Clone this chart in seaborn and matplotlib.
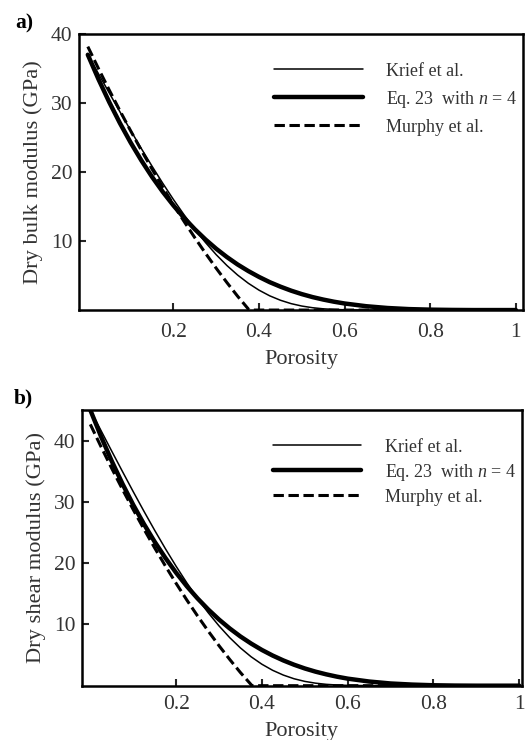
import matplotlib
matplotlib.use("Agg")
import matplotlib.pyplot as plt
import pandas as pd
import seaborn as sns

# porosity grid shared by the Krief and Eq. 23 curves
porosity = [0.0, 0.025, 0.05, 0.075, 0.1, 0.125, 0.15, 0.175, 0.2, 0.225, 0.25, 0.275,
            0.3, 0.325, 0.35, 0.375, 0.4, 0.425, 0.45, 0.475, 0.5, 0.525, 0.55, 0.575,
            0.6, 0.65, 0.7, 0.75, 0.8, 0.85, 0.9, 1.0]

# a) dry bulk modulus (GPa)
bulk_krief = [37.0, 34.23, 31.47, 28.73, 26.04, 23.41, 20.85, 18.38, 16.02, 13.79, 11.71, 9.78,
              8.02, 6.45, 5.07, 3.88, 2.88, 2.06, 1.42, 0.93, 0.58, 0.34, 0.18, 0.09,
              0.04, 0.0, 0.0, 0.0, 0.0, 0.0, 0.0, 0.0]
bulk_eq23 = [37.0, 33.44, 30.14, 27.09, 24.28, 21.69, 19.31, 17.14, 15.16, 13.35, 11.71, 10.22,
             8.88, 7.68, 6.60, 5.65, 4.80, 4.04, 3.39, 2.81, 2.31, 1.88, 1.52, 1.21,
             0.95, 0.56, 0.30, 0.14, 0.06, 0.02, 0.0, 0.0]

# b) dry shear modulus (GPa)
shear_krief = [45.0, 41.63, 38.27, 34.95, 31.67, 28.47, 25.36, 22.36, 19.49, 16.78, 14.24, 11.89,
               9.76, 7.84, 6.16, 4.71, 3.50, 2.51, 1.73, 1.13, 0.70, 0.41, 0.22, 0.11,
               0.05, 0.01, 0.0, 0.0, 0.0, 0.0, 0.0, 0.0]
shear_eq23 = [45.0, 40.67, 36.65, 32.94, 29.52, 26.38, 23.49, 20.85, 18.43, 16.23, 14.24, 12.43,
              10.80, 9.34, 8.03, 6.87, 5.83, 4.92, 4.12, 3.42, 2.81, 2.29, 1.85, 1.47,
              1.15, 0.68, 0.36, 0.18, 0.07, 0.02, 0.0, 0.0]

# Murphy et al. curves reach zero near 0.377 and stay there
murphy_porosity = [0.0, 0.025, 0.05, 0.075, 0.1, 0.125, 0.15, 0.175, 0.2, 0.225, 0.25, 0.275,
                   0.3, 0.325, 0.35, 0.377, 1.0]
bulk_murphy = [38.18, 34.99, 31.89, 28.89, 25.98, 23.16, 20.44, 17.81, 15.27, 12.83, 10.48, 8.22,
               6.05, 3.98, 2.00, 0.0, 0.0]
shear_murphy = [42.65, 39.00, 35.46, 32.04, 28.74, 25.56, 22.49, 19.54, 16.70, 13.98, 11.38, 8.90,
                6.53, 4.28, 2.14, 0.0, 0.0]

x_ticks = [0.2, 0.4, 0.6, 0.8, 1.0]
x_tick_labels = ["0.2", "0.4", "0.6", "0.8", "1"]
y_ticks = [10, 20, 30, 40]
labels = ["Krief et al.", "Eq. 23  with $n$ = 4", "Murphy et al."]

sns.set_style("ticks")
plt.rcParams["font.family"] = ["Liberation Serif", "DejaVu Serif"]
plt.rcParams["mathtext.fontset"] = "custom"
plt.rcParams["mathtext.it"] = "Liberation Serif:italic"
plt.rcParams["mathtext.rm"] = "Liberation Serif"

text_color = "#333333"


def draw_panel(ax, krief, eq23, murphy, ylim, ylabel, xlim, xpad, leg_spacing):
    df_main = pd.DataFrame({"porosity": porosity, "krief": krief, "eq23": eq23})
    df_murphy = pd.DataFrame({"porosity": murphy_porosity, "murphy": murphy})
    sns.lineplot(data=df_main, x="porosity", y="krief", ax=ax, color="black",
                 linewidth=1.1, label=labels[0])
    sns.lineplot(data=df_main, x="porosity", y="eq23", ax=ax, color="black",
                 linewidth=3.2, label=labels[1])
    sns.lineplot(data=df_murphy, x="porosity", y="murphy", ax=ax, color="black",
                 linewidth=2.2, linestyle=(0, (3.4, 1.5)), label=labels[2])
    ax.set(xlim=xlim, ylim=ylim, xticks=x_ticks, yticks=y_ticks)
    ax.set_xticklabels(x_tick_labels)
    ax.set_xlabel("Porosity", fontsize=16, color=text_color, labelpad=6)
    ax.set_ylabel(ylabel, fontsize=16.2, color=text_color, labelpad=5.5)
    ax.tick_params(direction="in", length=5, width=1.5, labelsize=15.5,
                   labelcolor=text_color)
    ax.tick_params(axis="x", pad=xpad)
    ax.tick_params(axis="y", pad=4.5)
    for side in ["top", "right", "bottom", "left"]:
        ax.spines[side].set_visible(True)
        ax.spines[side].set_linewidth(1.8)
        ax.spines[side].set_color("black")
    leg = ax.legend(loc="upper right", bbox_to_anchor=(1.024, 0.955), frameon=False,
                    fontsize=13, handlelength=4.9, handletextpad=1.3,
                    labelspacing=leg_spacing)
    for t in leg.get_texts():
        t.set_color(text_color)


fig = plt.figure(figsize=(5.29, 7.40), dpi=100)
ax_a = fig.add_axes([0.149, 0.581, 0.840, 0.373])
ax_b = fig.add_axes([0.1545, 0.0734, 0.832, 0.3726])

draw_panel(ax_a, bulk_krief, bulk_eq23, bulk_murphy, (0, 40), "Dry bulk modulus (GPa)",
           (-0.021, 1.017), 9, 0.5)
draw_panel(ax_b, shear_krief, shear_eq23, shear_murphy, (0, 45), "Dry shear modulus (GPa)",
           (-0.02, 1.006), 6.5, 0.33)

fig.text(0.028, 0.962, "a)", fontsize=15.5, fontweight="bold", color="black")
fig.text(0.026, 0.455, "b)", fontsize=15.5, fontweight="bold", color="black")

fig.savefig("out.png", dpi=100)
